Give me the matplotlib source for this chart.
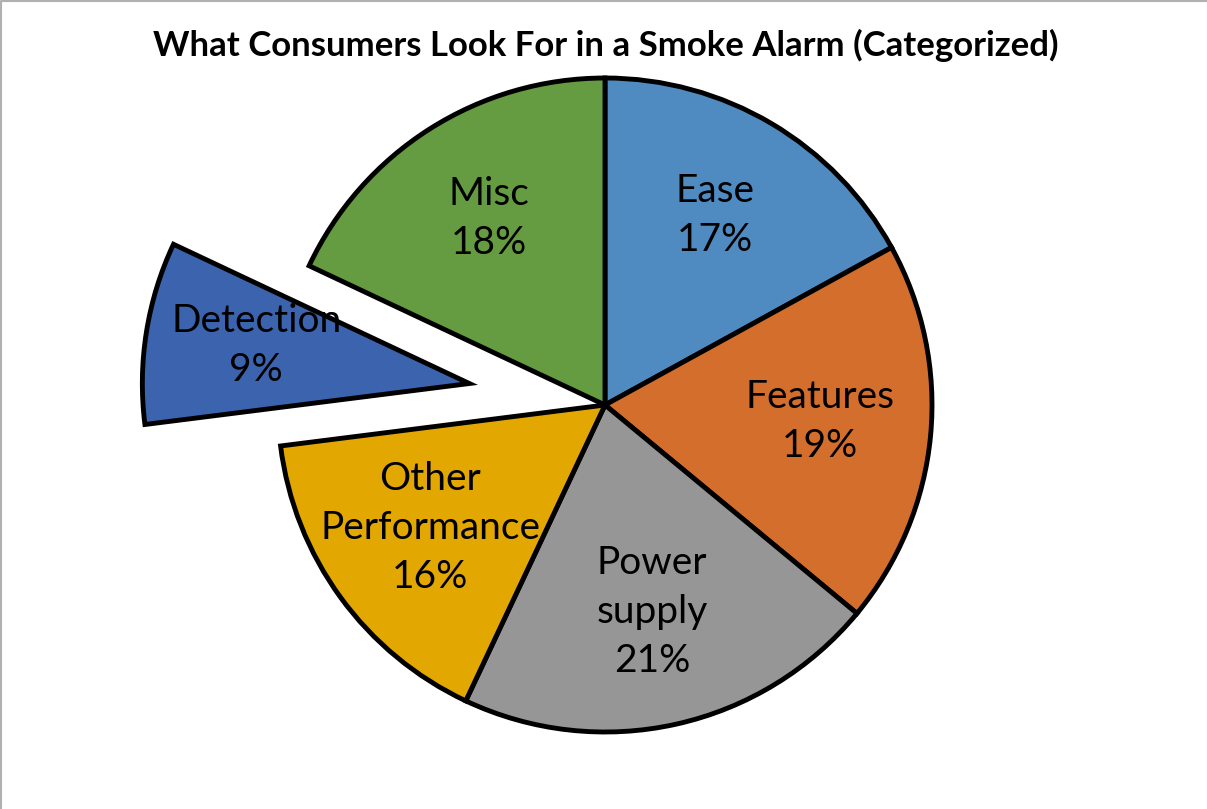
import numpy as np
import matplotlib
matplotlib.use("Agg")
import matplotlib.pyplot as plt
from matplotlib.lines import Line2D

plt.rcParams['font.family'] = ['Lato', 'DejaVu Sans']

# slice data, clockwise from 12 o'clock
categories = ['Ease', 'Features', 'Power\nsupply', 'Other\nPerformance', 'Detection', 'Misc']
shares = [17, 19, 21, 16, 9, 18]
explode_frac = [0, 0, 0, 0, 0.42, 0]
colors = ['#4F8BC0', '#D46E2C', '#969696', '#E2A700', '#3C63AE', '#659B41']

W, H = 1207, 809
fig = plt.figure(figsize=(W / 100, H / 100), dpi=100)
ax = fig.add_axes([0, 0, 1, 1])

radius = 327
center = (605, H - 405)

wedges, _ = ax.pie(
    shares,
    colors=colors,
    startangle=90,
    counterclock=False,
    radius=radius,
    center=center,
    explode=[e * radius for e in explode_frac],
    wedgeprops=dict(edgecolor='black', linewidth=3.5, joinstyle='miter'),
)

# category name + percentage inside each slice
for w, name, pct in zip(wedges, categories, shares):
    mid = np.deg2rad((w.theta1 + w.theta2) / 2)
    cx, cy = w.center
    r = 0.66 * radius
    ax.text(cx + r * np.cos(mid), cy + r * np.sin(mid) + 4, f"{name}\n{pct}%",
            ha='center', va='center', fontsize=28, linespacing=1.45)

ax.set_xlim(0, W)
ax.set_ylim(0, H)
ax.set_aspect('auto')
ax.axis('off')

ax.text(W / 2 + 2, H - 45, 'What Consumers Look For in a Smoke Alarm (Categorized)',
        ha='center', va='center', fontsize=25, fontweight='bold')

# thin chart-area border along the top and left edges
fig.add_artist(Line2D([0.5 / W, 0.5 / W, 1], [0, 1 - 0.5 / H, 1 - 0.5 / H],
                      transform=fig.transFigure, color='#B0B0B0', linewidth=1.5))

fig.savefig('out.png', dpi=100, facecolor='white')
